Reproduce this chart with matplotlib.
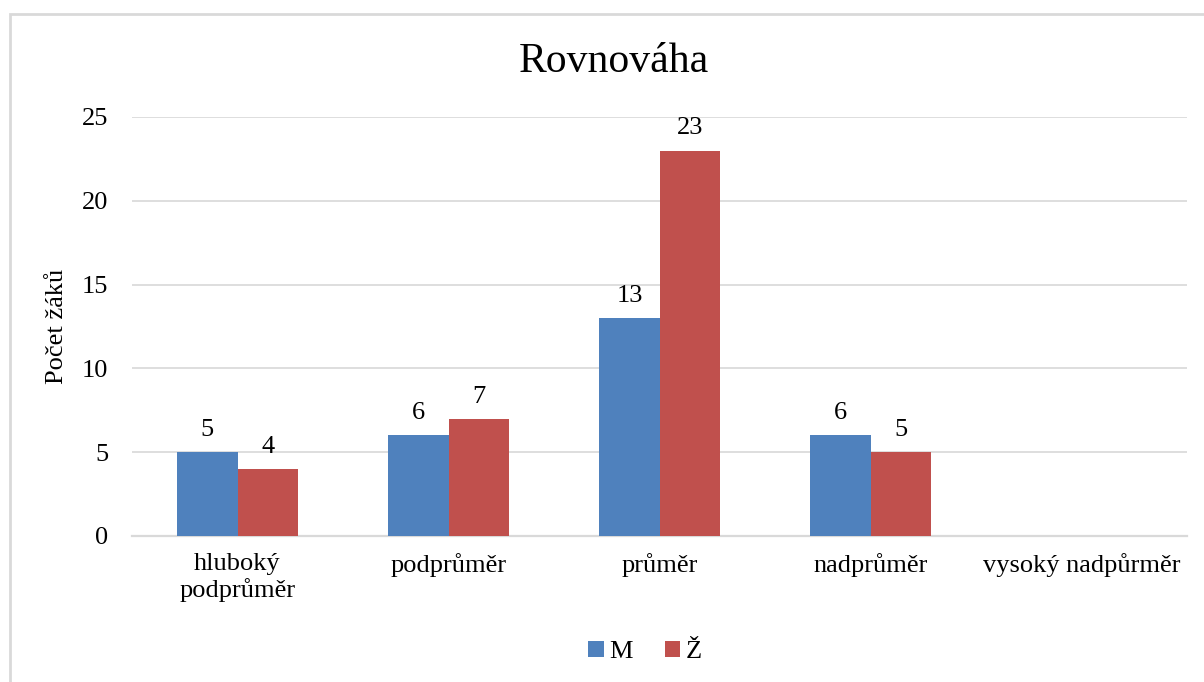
import numpy as np
import matplotlib.pyplot as plt
from matplotlib.patches import Rectangle

categories = ['hluboký\npodprůměr', 'podprůměr', 'průměr', 'nadprůměr', 'vysoký nadpůrměr']
muzi = [5, 6, 13, 6, 0]
zeny = [4, 7, 23, 5, 0]

plt.rcParams['font.family'] = ['Liberation Serif', 'DejaVu Serif']

fig = plt.figure(figsize=(12.04, 6.82), dpi=100)
ax = fig.add_axes([132 / 1204, 1 - 536 / 682, (1187 - 132) / 1204, (536 - 117) / 682])

x = np.arange(len(categories))
w = 0.285
bars_m = ax.bar(x - w / 2, muzi, w, color='#4F81BD', label='M', zorder=3)
bars_z = ax.bar(x + w / 2, zeny, w, color='#C0504D', label='Ž', zorder=3)

# popisky hodnot, nuly se nezobrazuji
for bars, vals in [(bars_m, muzi), (bars_z, zeny)]:
    for b, v in zip(bars, vals):
        if v == 0:
            continue
        ax.annotate(str(v), (b.get_x() + b.get_width() / 2, v), xytext=(0, 8),
                    textcoords='offset points', ha='center', va='bottom', fontsize=19)

ax.set_xlim(-0.5, len(categories) - 0.5)
ax.set_ylim(0, 25)
ax.set_yticks(range(0, 26, 5))
ax.grid(axis='y', color='#dedede', linewidth=1.4, zorder=0)
ax.set_xticks(x)
ax.set_xticklabels(categories, fontsize=19)
ax.tick_params(axis='y', labelsize=19, length=0, pad=17)
ax.tick_params(axis='x', length=0, pad=12)
for s in ['top', 'right', 'left']:
    ax.spines[s].set_visible(False)
ax.spines['bottom'].set_color('#d9d9d9')
ax.spines['bottom'].set_linewidth(1.6)
ax.set_ylabel('Počet žáků', fontsize=19, labelpad=24)
ax.yaxis.set_label_coords(-64 / 1055, 0.5)

fig.text(614 / 1204, 1 - 62 / 682, 'Rovnováha', ha='center', va='center', fontsize=30)

ax.legend(loc='center', bbox_to_anchor=(645 / 1204, 1 - 652 / 682), bbox_transform=fig.transFigure,
          ncol=2, frameon=False, fontsize=19, handlelength=0.6, handleheight=0.6,
          handletextpad=0.2, columnspacing=1.2)

# ramecek grafu
fig.patches.append(Rectangle((10 / 1204, -0.1), 1.2, 1 - 14 / 682 + 0.1, transform=fig.transFigure,
                             fill=False, edgecolor='#d9d9d9', linewidth=2))

fig.savefig('out.png', dpi=100)
